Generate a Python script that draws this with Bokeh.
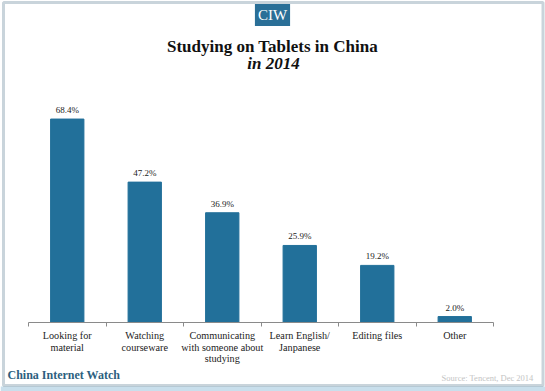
from bokeh.plotting import figure
from bokeh.models import (Range1d, FixedTicker, ColumnDataSource, LabelSet, Label,
                          BoxAnnotation)
from bokeh.embed import file_html
from bokeh.resources import INLINE

categories = ["Looking for\nmaterial", "Watching\ncourseware",
              "Communicating\nwith someone about\nstudying",
              "Learn English/\nJanpanese", "Editing files", "Other"]
values = [68.4, 47.2, 36.9, 25.9, 19.2, 2.0]
value_labels = ["68.4%", "47.2%", "36.9%", "25.9%", "19.2%", "2.0%"]

SERIF = "Liberation Serif"
BAR = "#22709a"

# layout constants (pixels)
W, H = 545, 391
LEFT, BASE = 28, 322          # axis start x, baseline y (from top)
PX_CAT = 77.5                 # pixels per category slot
PX_PCT = 232 / 78             # pixels per percentage point

n = len(categories)
xs = [i + 0.5 for i in range(n)]
parts = [c.split("\n") + [""] * (3 - len(c.split("\n"))) for c in categories]
src = ColumnDataSource(dict(x=xs, top=values, lab=value_labels,
                            l1=[q[0] for q in parts], l2=[q[1] for q in parts],
                            l3=[q[2] for q in parts]))

p = figure(output_backend="svg", toolbar_location=None,
           x_range=Range1d(-LEFT / PX_CAT, (W - LEFT) / PX_CAT),
           y_range=Range1d(-(H - BASE) / PX_PCT, BASE / PX_PCT),
           frame_width=W, frame_height=H,
           min_border_left=0, min_border_right=0,
           min_border_top=0, min_border_bottom=0,
           background_fill_color="white", border_fill_color="white")
p.outline_line_color = None
p.grid.visible = False
p.yaxis.visible = False

ax = p.xaxis[0]
ax.fixed_location = 0
ax.bounds = (0, n)
ax.ticker = FixedTicker(ticks=list(range(n + 1)))
ax.major_label_overrides = {i: "" for i in range(n + 1)}
ax.major_label_text_font_size = "1px"
ax.axis_line_color = "#8a8a8a"
ax.major_tick_line_color = "#8a8a8a"
ax.major_tick_out = 4
ax.major_tick_in = 0
ax.minor_tick_line_color = None

p.vbar(x="x", top="top", bottom=0, width=0.43, source=src,
       fill_color=BAR, line_color=BAR)

p.add_layout(LabelSet(x="x", y="top", text="lab", source=src, y_offset=4,
                      text_align="center", text_baseline="bottom",
                      text_font=SERIF, text_font_size="9px", text_color="#222222"))

for col, yy in (("l1", H - 335), ("l2", H - 346.5), ("l3", H - 358)):
    p.add_layout(LabelSet(x="x", y=yy, y_units="screen", text=col, source=src,
                          text_align="center", text_baseline="middle",
                          text_font=SERIF, text_font_size="10.2px",
                          text_color="#222222"))

# bottom light band and page border
p.add_layout(BoxAnnotation(left=0, right=W, bottom=0, top=5,
                           left_units="screen", right_units="screen",
                           top_units="screen", bottom_units="screen",
                           fill_color="#c9dfec", fill_alpha=1, line_color=None))
p.add_layout(BoxAnnotation(left=3, right=542.5, bottom=H - 385, top=H - 2,
                           left_units="screen", right_units="screen",
                           top_units="screen", bottom_units="screen",
                           fill_alpha=0, line_color="#4d7189", line_width=3))

p.add_layout(Label(x=272, y=H - 14.5, x_units="screen", y_units="screen", text="CIW",
                   text_align="center", text_baseline="middle",
                   text_font=SERIF, text_font_size="15px", text_color="white",
                   background_fill_color="#2a6f97", padding=3))

p.add_layout(Label(x=272, y=H - 46, x_units="screen", y_units="screen",
                   text="Studying on Tablets in China", text_align="center",
                   text_baseline="middle", text_font=SERIF, text_font_size="17px",
                   text_font_style="bold", text_color="#111111"))
p.add_layout(Label(x=273, y=H - 63, x_units="screen", y_units="screen",
                   text="in 2014", text_align="center",
                   text_baseline="middle", text_font=SERIF, text_font_size="17px",
                   text_font_style="bold italic", text_color="#111111"))

p.add_layout(Label(x=7, y=H - 374, x_units="screen", y_units="screen",
                   text="China Internet Watch", text_align="left",
                   text_baseline="middle", text_font=SERIF, text_font_size="12px",
                   text_font_style="bold", text_color="#2d5f80"))
p.add_layout(Label(x=533, y=H - 377, x_units="screen", y_units="screen",
                   text="Source: Tencent, Dec 2014", text_align="right",
                   text_baseline="middle", text_font=SERIF, text_font_size="8.5px",
                   text_color="#c4c4c4"))

open("out.html", "w").write(file_html(p, INLINE))
